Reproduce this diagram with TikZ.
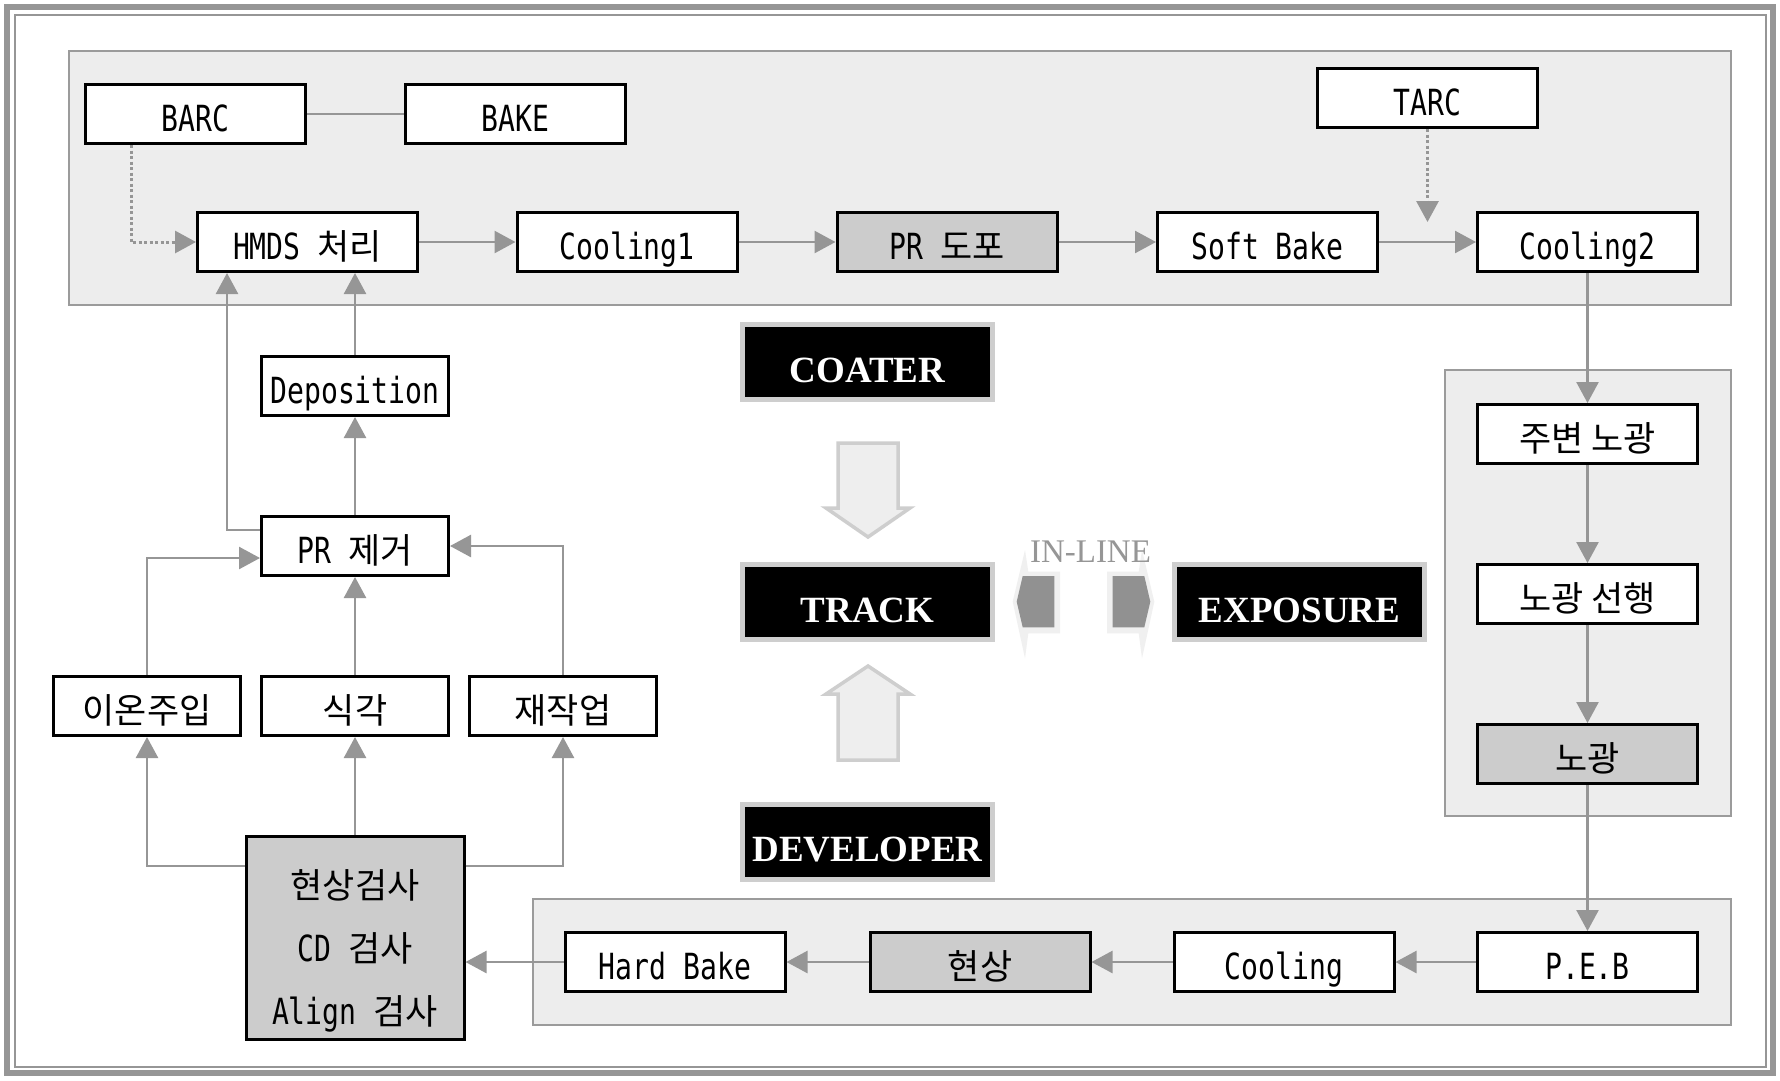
\documentclass[tikz,border=0pt]{standalone}
\usepackage{fontspec}
\usetikzlibrary{arrows.meta}
\newfontfamily\hangulfont{Noto Sans CJK KR}
\newfontfamily\boxmono[FakeStretch=0.78]{DejaVu Sans Mono}
\newfontfamily\stagefont{Liberation Serif}
\newcommand\kor[1]{{\hangulfont\fontsize{35}{40}\selectfont #1}}
\definecolor{conn}{RGB}{150,150,150}
\definecolor{panelfill}{RGB}{237,237,237}
\definecolor{panelline}{RGB}{155,155,155}
\definecolor{hilite}{RGB}{204,204,204}
\definecolor{blockfill}{RGB}{238,238,238}
\definecolor{blockline}{RGB}{206,206,206}
\definecolor{halo}{RGB}{240,240,240}
\definecolor{chev}{RGB}{145,145,145}
\tikzset{
  procbox/.style={draw=black, line width=3pt, fill=white, minimum width=220pt,
    minimum height=59pt, inner sep=0pt, text height=36pt, text depth=2pt,
    font=\boxmono\fontsize{36}{40}\selectfont},
  leftbox/.style={procbox, minimum width=187pt},
  shaded/.style={fill=hilite},
  txt/.style={inner sep=0pt, text height=36pt, text depth=2pt,
    font=\boxmono\fontsize{36}{40}\selectfont},
  stage/.style={fill=black, draw=blockline, line width=5pt, minimum width=250pt,
    minimum height=75pt, inner sep=0pt, text=white, text height=40pt, text depth=0pt,
    font=\stagefont\bfseries\fontsize{37}{40}\selectfont},
  panel/.style={draw=panelline, fill=panelfill, line width=2.5pt},
  plain/.style={draw=conn, line width=2.5pt},
  arr/.style={plain, -{Triangle[length=21pt,width=22pt]}},
  dotarr/.style={arr, line width=3pt, dash pattern=on 3pt off 2.5pt},
  block/.style={fill=blockfill, draw=blockline, line width=3.5pt, line join=miter}
}
\begin{document}
\begin{tikzpicture}[x=1pt,y=-1pt]
% canvas and double frame
\fill[white] (0,0) rectangle (1780,1080);
\useasboundingbox (0,0) rectangle (1780,1080);
\draw[conn, line width=6pt] (7,7) rectangle (1773,1073);
\draw[conn, line width=2.5pt] (15,15) rectangle (1766,1067);

% stage panels
\draw[panel] (69,51) rectangle (1731,305);
\draw[panel] (1445,370) rectangle (1731,816);
\draw[panel] (533,899) rectangle (1731,1025);

% coater row
\node[procbox] (barc) at (195.5,114) {BARC};
\node[procbox] (bake) at (515.5,114) {BAKE};
\node[procbox] (tarc) at (1427.5,98) {TARC};
\node[procbox] (hmds) at (307.5,242) {HMDS \kor{처리}};
\node[procbox] (cool1) at (627,242) {Cooling1};
\node[procbox, shaded] (prc) at (947,242) {PR \kor{도포}};
\node[procbox] (soft) at (1267.5,242) {Soft Bake};
\node[procbox] (cool2) at (1587.5,242) {Cooling2};

% exposure column
\node[procbox] (edge) at (1587.5,434) {\kor{주변 노광}};
\node[procbox] (pre) at (1587.5,594) {\kor{노광 선행}};
\node[procbox, shaded] (expo) at (1587.5,754) {\kor{노광}};

% developer row
\node[procbox] (peb) at (1587.5,962) {P.E.B};
\node[procbox] (cool3) at (1284,962) {Cooling};
\node[procbox, shaded] (dev) at (980,962) {\kor{현상}};
\node[procbox] (hard) at (675,962) {Hard Bake};

% inspection and rework column
\node[procbox, shaded, minimum width=218pt, minimum height=203pt] (insp) at (355,938) {};
\node[txt] (insp1) at (355,881) {\kor{현상검사}};
\node[txt] (insp2) at (355,944.5) {CD \kor{검사}};
\node[txt] (insp3) at (355,1007) {Align \kor{검사}};
\node[leftbox] (ion) at (147,706) {\kor{이온주입}};
\node[leftbox] (etch) at (355,706) {\kor{식각}};
\node[leftbox] (redo) at (563,706) {\kor{재작업}};
\node[leftbox] (prr) at (355,546) {PR \kor{제거}};
\node[leftbox] (depo) at (355,386) {Deposition};

% helper coordinates for routed connectors
\coordinate (xb) at (131,0);
\coordinate (xk) at (227,0);
\coordinate (yk) at (0,530);
\coordinate (yl) at (0,558);
\coordinate (yi) at (0,866);
\coordinate (tarcend) at (1427.5,222);

% coater connectors
\draw[plain] (barc) -- (bake);
\draw[dotarr] (barc.south -| xb) |- (hmds.west);
\draw[dotarr] (tarc.south) -- (tarcend);
\draw[arr] (hmds) -- (cool1);
\draw[arr] (cool1) -- (prc);
\draw[arr] (prc) -- (soft);
\draw[arr] (soft) -- (cool2);

% exposure connectors
\draw[arr] (cool2) -- (edge);
\draw[arr] (edge) -- (pre);
\draw[arr] (pre) -- (expo);
\draw[arr] (expo) -- (peb);

% developer connectors
\draw[arr] (peb) -- (cool3);
\draw[arr] (cool3) -- (dev);
\draw[arr] (dev) -- (hard);
\draw[arr] (hard.west) -- (hard.west -| insp.east);

% inspection branches
\draw[arr] (insp.west |- yi) -| (ion.south);
\draw[arr] (insp) -- (etch);
\draw[arr] (insp.east |- yi) -| (redo.south);
\draw[arr] (ion.north) |- (prr.west |- yl);
\draw[arr] (etch) -- (prr);
\draw[arr] (redo.north) |- (prr.east);
\draw[arr] (prr) -- (depo);
\draw[arr] (depo) -- (hmds.south -| depo);
\draw[arr] (prr.west |- yk) -| (hmds.south -| xk);

% stage labels
\node[stage] (coater) at (867.5,362) {COATER};
\node[stage] (track) at (867.5,602) {TRACK};
\node[stage] (exposure) at (1299.5,602) {EXPOSURE};
\node[stage] (developer) at (867.5,841.5) {DEVELOPER};

% block arrows between stages
\draw[block] (838,443) -- (898,443) -- (898,508) -- (910,508) -- (868,537)
  -- (826,508) -- (838,508) -- cycle;
\draw[block] (838,760) -- (898,760) -- (898,694) -- (910,694) -- (868,666)
  -- (826,694) -- (838,694) -- cycle;

% in-line link between track and exposure
\fill[halo] (1025,550) -- (1028.3,571.7) -- (1060,571.7) -- (1060,633.3)
  -- (1028.3,633.3) -- (1025,658.3) -- (1012.7,601.7) -- cycle;
\fill[halo] (1142,550) -- (1138.7,571.7) -- (1107,571.7) -- (1107,633.3)
  -- (1138.7,633.3) -- (1142,658.3) -- (1154.3,601.7) -- cycle;
\fill[chev] (1022.7,576) -- (1054.3,576) -- (1054.3,627.3) -- (1022.7,627.3)
  -- (1016.7,601.7) -- cycle;
\fill[chev] (1144.3,576) -- (1112.7,576) -- (1112.7,627.3) -- (1144.3,627.3)
  -- (1150.3,601.7) -- cycle;
\node[anchor=base, inner sep=0pt, text=conn,
  font=\stagefont\fontsize{33}{36}\selectfont] (inline) at (1090.5,562) {IN-LINE};
\end{tikzpicture}
\end{document}
